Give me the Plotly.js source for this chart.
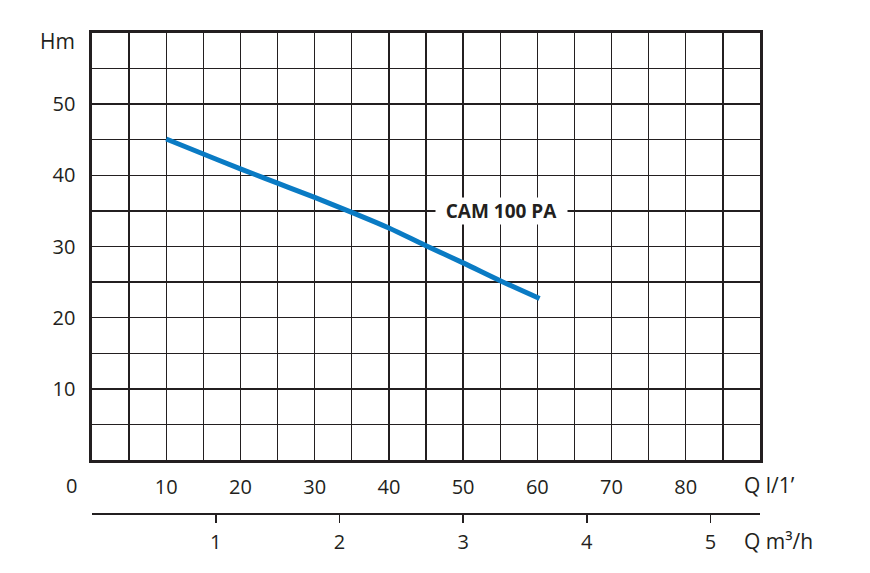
<!DOCTYPE html>
<html>
<head>
<meta charset="utf-8">
<script src="https://cdn.plot.ly/plotly-3.0.1.min.js"></script>
<style>html,body{margin:0;padding:0;background:#fff;}#chart{width:870px;height:573px;}</style>
</head>
<body>
<div id="chart"></div>
<script>
// Data
const flowLmin = [10, 15, 20, 25, 30, 35, 40, 45, 50, 55, 60.3];
const headM    = [45.1, 43.0, 40.9, 38.9, 36.9, 34.8, 32.6, 30.1, 27.7, 25.2, 22.7];
const seriesName = 'CAM 100 PA';
const xGridVals = [5, 10, 15, 20, 25, 30, 35, 40, 45, 50, 55, 60, 65, 70, 75, 80, 85];
const xTickText = ['', '10', '', '20', '', '30', '', '40', '', '50', '', '60', '', '70', '', '80', ''];
const yGridVals = [5, 10, 15, 20, 25, 30, 35, 40, 45, 50, 55];
const yTickText = ['', '10', '', '20', '', '30', '', '40', '', '50', ''];
const m3hTickVals = [1, 2, 3, 4, 5];
const m3hTickText = ['1', '2', '3', '4', '5'];

const ink = '#231f20';
const fontFam = '"Open Sans", "Noto Sans", sans-serif';
const W = 870, H = 573;
const L = 92, R = 110, T = 33, B = 60;
const pw = W - L - R, ph = H - T - B;
const px = v => (v - L) / pw;
const py = v => (H - B - v) / ph;

const traces = [
  {x: flowLmin, y: headM, type: 'scatter', mode: 'lines',
   line: {color: '#0a7bc4', width: 5, shape: 'spline', smoothing: 1}, name: seriesName, hoverinfo: 'skip'},
  {x: [], y: [], xaxis: 'x2', yaxis: 'y2', type: 'scatter', mode: 'lines', showlegend: false}
];

const tickFont = {size: 20, color: ink, family: fontFam};

const layout = {
  width: W, height: H,
  margin: {l: L, r: R, t: T, b: B},
  paper_bgcolor: '#fff', plot_bgcolor: '#fff',
  showlegend: false,
  font: {family: fontFam, color: ink, size: 20},
  xaxis: {
    range: [0, 90], domain: [0, 1], anchor: 'y',
    tickmode: 'array', tickvals: xGridVals, ticktext: xTickText,
    ticks: '', showgrid: true, gridcolor: ink, gridwidth: 1.4,
    showline: true, mirror: true, linecolor: ink, linewidth: 2.6,
    zeroline: false, ticklabelstandoff: 7, tickfont: tickFont
  },
  yaxis: {
    range: [0, 60], domain: [py(460), 1], anchor: 'x',
    tickmode: 'array', tickvals: yGridVals, ticktext: yTickText,
    ticks: '', showgrid: true, gridcolor: ink, gridwidth: 1.4,
    showline: true, mirror: true, linecolor: ink, linewidth: 2.6,
    zeroline: false, ticklabelstandoff: 10, tickfont: tickFont
  },
  xaxis2: {
    range: [0, 90 / (1000 / 60)], domain: [0, 1], anchor: 'y2', side: 'bottom',
    tickmode: 'array', tickvals: m3hTickVals, ticktext: m3hTickText,
    ticks: 'outside', ticklen: 8, tickwidth: 1.6, tickcolor: ink,
    showline: true, linecolor: ink, linewidth: 1.8,
    showgrid: false, zeroline: false, ticklabelstandoff: 2, tickfont: tickFont
  },
  yaxis2: {domain: [0, 0.002], anchor: 'x2', visible: false, range: [0, 1]},
  annotations: [
    {xref: 'x', yref: 'y', x: 55.2, y: 35, text: '<b>' + seriesName + '</b>',
     showarrow: false, bgcolor: '#fff', width: 131, borderpad: 0,
     font: {size: 19, color: ink, family: fontFam}},
    {xref: 'paper', yref: 'paper', x: px(71), y: py(485), text: '0', showarrow: false,
     xanchor: 'center', yanchor: 'middle', font: {size: 20, color: ink}},
    {xref: 'paper', yref: 'paper', x: px(57), y: py(41), text: 'Hm', showarrow: false,
     xanchor: 'center', yanchor: 'middle', font: {size: 21, color: ink}},
    {xref: 'paper', yref: 'paper', x: px(742), y: py(485), text: 'Q l/1’', showarrow: false,
     xanchor: 'left', yanchor: 'middle', font: {size: 21, color: ink}},
    {xref: 'paper', yref: 'paper', x: px(742), y: py(541), text: 'Q m³/h', showarrow: false,
     xanchor: 'left', yanchor: 'middle', font: {size: 21, color: ink}}
  ]
};

Plotly.newPlot('chart', traces, layout, {displayModeBar: false, staticPlot: true});
</script>
</body>
</html>
